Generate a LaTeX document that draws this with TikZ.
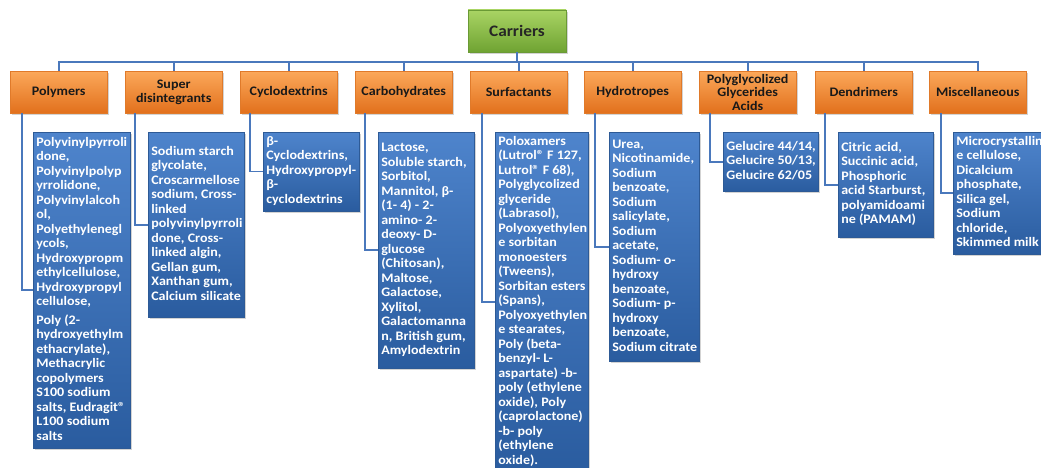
\documentclass[tikz,border=0pt]{standalone}
\usepackage{fontspec}
\newfontfamily\boxfont[FakeStretch=1.08]{Carlito}
\usetikzlibrary{shadows}
\definecolor{lineblue}{HTML}{4A78BC}
\definecolor{orTop}{HTML}{FBA85A}
\definecolor{orBot}{HTML}{E2701C}
\definecolor{orEdge}{HTML}{E07A2A}
\definecolor{blTop}{HTML}{4E84CC}
\definecolor{blBot}{HTML}{2A5C9F}
\definecolor{blEdge}{HTML}{2D5A96}
\definecolor{grTop}{HTML}{A9D464}
\definecolor{grBot}{HTML}{6FA332}
\definecolor{grEdge}{HTML}{6A9A35}
\newcommand\itemtext[2]{\makebox[#1][l]{\begin{tabular}{@{}l@{}}#2\end{tabular}}}
\tikzset{
  conn/.style={draw=lineblue, line width=1.8pt},
  rootbox/.style={rectangle, minimum width=98pt, minimum height=42pt, inner sep=0pt,
    top color=grTop, bottom color=grBot, draw=grEdge, line width=0.5pt,
    drop shadow={shadow xshift=2pt, shadow yshift=-2pt, opacity=0.35},
    font=\boxfont\bfseries\fontsize{16}{17}\selectfont, text=black!85},
  catbox/.style={rectangle, minimum width=97pt, minimum height=42pt, inner sep=0pt,
    top color=orTop, bottom color=orBot, draw=orEdge, line width=0.4pt,
    drop shadow={shadow xshift=2pt, shadow yshift=-2pt, opacity=0.35},
    font=\boxfont\bfseries\fontsize{13}{13.5}\selectfont, align=center, text=black!90,
    anchor=north west},
  itembox/.style={rectangle, inner sep=3pt, anchor=north west,
    top color=blTop, bottom color=blBot, draw=blEdge, line width=0.6pt,
    drop shadow={shadow xshift=2pt, shadow yshift=-2pt, opacity=0.35},
    font=\boxfont\bfseries\fontsize{13}{14.5}\selectfont, text=white}
}
\begin{document}
\begin{tikzpicture}[x=1pt,y=-1pt]
\useasboundingbox (0,0) rectangle (1041,468);
\clip (0,0) rectangle (1041,468);

\node[rootbox] (car) at (517,31) {Carriers};

\node[catbox] (c1) at (10,71) {Polymers};
\node[catbox] (c2) at (125,71) {Super\\disintegrants};
\node[catbox] (c3) at (240,71) {Cyclodextrins};
\node[catbox] (c4) at (355,71) {Carbohydrates};
\node[catbox] (c5) at (470,71) {Surfactants};
\node[catbox] (c6) at (584,71) {Hydrotropes};
\node[catbox] (c7) at (699,71) {Polyglycolized\\Glycerides\\Acids};
\node[catbox] (c8) at (815,71) {Dendrimers};
\node[catbox] (c9) at (929,71) {Miscellaneous};

\node[itembox, minimum width=97pt, minimum height=316pt] (b1) at (33,132) {\itemtext{91pt}{Polyvinylpyrroli\\done,\\Polyvinylpolyp\\yrrolidone,\\Polyvinylalcoh\\ol,\\Polyethylenegl\\ycols,\\Hydroxypropm\\ethylcellulose,\\Hydroxypropyl\\cellulose,\\[4pt]Poly (2-\\hydroxyethylm\\ethacrylate),\\Methacrylic\\copolymers\\S100 sodium\\salts, Eudragit®\\L100 sodium\\salts}};
\node[itembox, minimum width=96pt, minimum height=185pt] (b2) at (148,132) {\itemtext{90pt}{Sodium starch\\glycolate,\\Croscarmellose\\sodium, Cross-\\linked\\polyvinylpyrroli\\done, Cross-\\linked algin,\\Gellan gum,\\Xanthan gum,\\Calcium silicate}};
\node[itembox, minimum width=96pt, minimum height=77pt] (b3) at (263,132) {\itemtext{90pt}{β-\\Cyclodextrins,\\Hydroxypropyl-\\β-\\cyclodextrins}};
\node[itembox, minimum width=96pt, minimum height=236pt] (b4) at (378,132) {\itemtext{90pt}{Lactose,\\Soluble starch,\\Sorbitol,\\Mannitol, β-\\(1- 4) - 2-\\amino- 2-\\deoxy- D-\\glucose\\(Chitosan),\\Maltose,\\Galactose,\\Xylitol,\\Galactomanna\\n, British gum,\\Amylodextrin}};
\node[itembox, minimum width=93pt, minimum height=333pt] (b5) at (495,132) {\itemtext{87pt}{Poloxamers\\(Lutrol® F 127,\\Lutrol® F 68),\\Polyglycolized\\glyceride\\(Labrasol),\\Polyoxyethylen\\e sorbitan\\monoesters\\(Tweens),\\Sorbitan esters\\(Spans),\\Polyoxyethylen\\e stearates,\\Poly (beta-\\benzyl- L-\\aspartate) -b-\\poly (ethylene\\oxide), Poly\\(caprolactone)\\-b- poly\\(ethylene\\oxide).}};
\node[itembox, minimum width=90pt, minimum height=229pt] (b6) at (609,132) {\itemtext{84pt}{Urea,\\Nicotinamide,\\Sodium\\benzoate,\\Sodium\\salicylate,\\Sodium\\acetate,\\Sodium- o-\\hydroxy\\benzoate,\\Sodium- p-\\hydroxy\\benzoate,\\Sodium citrate}};
\node[itembox, minimum width=95pt, minimum height=59pt] (b7) at (723,132) {\itemtext{89pt}{Gelucire 44/14,\\Gelucire 50/13,\\Gelucire 62/05}};
\node[itembox, minimum width=95pt, minimum height=105pt] (b8) at (838,132) {\itemtext{89pt}{Citric acid,\\Succinic acid,\\Phosphoric\\acid Starburst,\\polyamidoami\\ne (PAMAM)}};
\node[itembox, minimum width=98pt, minimum height=121pt] (b9) at (953,132) {\itemtext{92pt}{Microcrystallin\\e cellulose,\\Dicalcium\\phosphate,\\Silica gel,\\Sodium\\chloride,\\Skimmed milk}};

\foreach \i in {1,...,9} {
  \draw[conn] (car.south) -- ++(0,10) -| (c\i.north);
}
\draw[conn] ([xshift=12pt]c1.south west) |- (b1.west);
\draw[conn] ([xshift=10pt]c2.south west) |- (b2.west);
\draw[conn] ([xshift=10pt]c3.south west) |- (b3.west);
\draw[conn] ([xshift=10pt]c4.south west) |- (b4.west);
\draw[conn] ([xshift=12pt]c5.south west) |- (b5.west);
\draw[conn] ([xshift=11pt]c6.south west) |- (b6.west);
\draw[conn] ([xshift=11pt]c7.south west) |- (b7.west);
\draw[conn] ([xshift=10pt]c8.south west) |- (b8.west);
\draw[conn] ([xshift=12pt]c9.south west) |- (b9.west);
\end{tikzpicture}
\end{document}
